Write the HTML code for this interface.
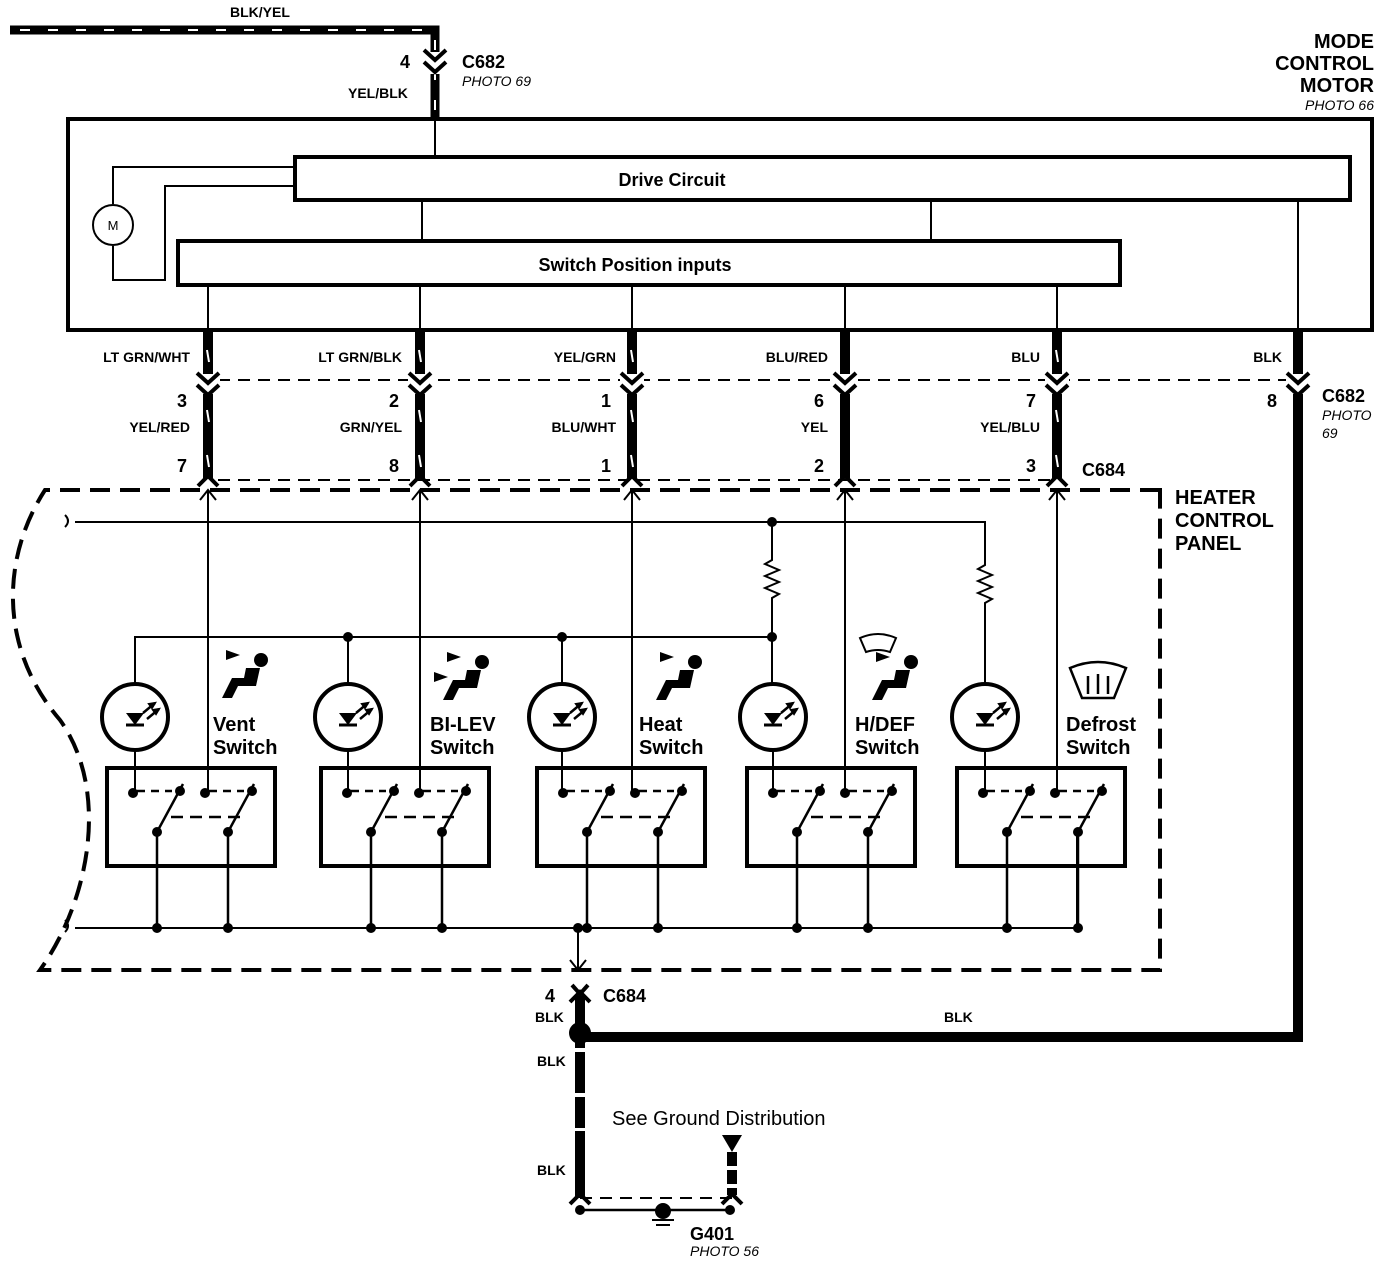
<!DOCTYPE html>
<html><head><meta charset="utf-8"><style>
html,body{margin:0;padding:0;background:#fff}
svg{display:block}
text{font-family:"Liberation Sans",Arial,sans-serif;font-weight:bold;fill:#000}
.s{font-size:14px}
.m{font-size:18px}
.l{font-size:20px}
.i{font-style:italic;font-weight:normal;font-size:14px}
.n{font-weight:normal;font-size:20px}
</style></head><body>
<svg width="1392" height="1264" viewBox="0 0 1392 1264" xmlns="http://www.w3.org/2000/svg">
<defs>
<g id="sw">
<rect x="0" y="0" width="168" height="98" fill="none" stroke="#000" stroke-width="4"/>
<g fill="#000">
<circle cx="26" cy="25" r="5"/><circle cx="73" cy="23" r="5"/><circle cx="98" cy="25" r="5"/><circle cx="145" cy="23" r="5"/>
<circle cx="50" cy="64" r="5"/><circle cx="121" cy="64" r="5"/>
</g>
<g stroke="#000" stroke-width="2.5" fill="none">
<path d="M30 23 L65 23" stroke-dasharray="8 6"/>
<path d="M102 23 L137 23" stroke-dasharray="8 6"/>
<path d="M50 64 L76 16"/><path d="M121 64 L147 16"/>
<path d="M64 49 L136 49" stroke-dasharray="12 7"/>
<path d="M50 64 L50 162"/><path d="M121 64 L121 162"/>
</g>
<circle cx="50" cy="160" r="5"/><circle cx="121" cy="160" r="5"/>
</g>
<g id="led">
<circle cx="0" cy="0" r="33" fill="#fff" stroke="#000" stroke-width="4"/>
<path d="M-9 -4 L9 -4 L0 8 Z" fill="#000"/>
<path d="M-9 8 L9 8" stroke="#000" stroke-width="3"/>
<path d="M8 -4 L20 -14 M12 2 L24 -8" stroke="#000" stroke-width="2.5"/>
<path d="M20 -14 l-6 1 l3 4z M24 -8 l-6 1 l3 4z" fill="#000" stroke="#000" stroke-width="2"/>
</g>
<g id="seat" fill="#000">
<path d="M0 -10 L14 -5 L0 0 Z"/>
<circle cx="35" cy="0" r="7"/>
<path d="M20 8 L34 8 L30 26 L12 26 L6 38 L-4 38 L6 18 L18 18 Z"/>
</g>
<g id="cpl">
<path d="M-11 -8 L0 2 L11 -8" stroke="#000" stroke-width="4" fill="none"/>
<path d="M-11 4 L0 14 L11 4" stroke="#000" stroke-width="4" fill="none"/>
</g>
</defs>

<!-- top wire -->
<path d="M10 30 L435 30 L435 118" stroke="#000" stroke-width="9" fill="none"/>
<path d="M20 30 L430 30" stroke="#fff" stroke-width="2" stroke-dasharray="10 18" fill="none"/>
<path d="M435 40 L435 110" stroke="#fff" stroke-width="2" stroke-dasharray="10 20" fill="none"/>
<rect x="426" y="52" width="18" height="22" fill="#fff"/>
<use href="#cpl" x="435" y="58"/>
<text class="s" x="230" y="17">BLK/YEL</text>
<text class="m" x="400" y="68">4</text>
<text class="m" x="462" y="68">C682</text>
<text class="i" x="462" y="86">PHOTO 69</text>
<text class="s" x="348" y="98">YEL/BLK</text>
<text class="l" x="1374" y="48" text-anchor="end">MODE</text>
<text class="l" x="1374" y="70" text-anchor="end">CONTROL</text>
<text class="l" x="1374" y="92" text-anchor="end">MOTOR</text>
<text class="i" x="1374" y="110" text-anchor="end">PHOTO 66</text>

<!-- motor box -->
<rect x="68" y="119" width="1304" height="211" fill="none" stroke="#000" stroke-width="4"/>
<g stroke="#000" stroke-width="2" fill="none">
<path d="M435 119 L435 157"/>
<path d="M295 167 L113 167 L113 204"/>
<path d="M113 246 L113 280 L165 280 L165 186 L295 186"/>
<path d="M422 200 L422 241 M931 200 L931 241 M1298 200 L1298 330"/>
<path d="M208 285 L208 330 M420 285 L420 330 M632 285 L632 330 M845 285 L845 330 M1057 285 L1057 330"/>
</g>
<circle cx="113" cy="225" r="20" fill="#fff" stroke="#000" stroke-width="2"/>
<text x="113" y="230" text-anchor="middle" style="font-size:13px;font-weight:normal">M</text>
<rect x="295" y="157" width="1055" height="43" fill="#fff" stroke="#000" stroke-width="4"/>
<text class="m" x="672" y="186" text-anchor="middle">Drive Circuit</text>
<rect x="178" y="241" width="942" height="44" fill="#fff" stroke="#000" stroke-width="4"/>
<text class="m" x="635" y="271" text-anchor="middle">Switch Position inputs</text>

<!-- thick wires -->
<g stroke="#000" stroke-width="10" fill="none">
<path d="M208 330 L208 478 M420 330 L420 478 M632 330 L632 478 M845 330 L845 478 M1057 330 L1057 478"/>
<path d="M1298 330 L1298 1037 L585 1037"/>
</g>
<g stroke="#fff" stroke-width="2" fill="none">
<path d="M207 350 l2 12 M207 410 l2 12 M207 455 l2 12"/>
<path d="M419 350 l2 12 M419 410 l2 12 M419 455 l2 12"/>
<path d="M631 350 l2 12 M631 410 l2 12 M631 455 l2 12"/>
<path d="M1056 350 l2 12 M1056 410 l2 12 M1056 455 l2 12"/>
</g>
<g stroke="#000" stroke-width="2" stroke-dasharray="12 8" fill="none">
<path d="M218 380 L1290 380"/>
<path d="M218 480 L1050 480"/>
</g>
<g fill="#fff"><rect x="196" y="374" width="24" height="20"/><rect x="408" y="374" width="24" height="20"/><rect x="620" y="374" width="24" height="20"/><rect x="833" y="374" width="24" height="20"/><rect x="1045" y="374" width="24" height="20"/><rect x="1286" y="374" width="24" height="20"/></g>
<use href="#cpl" x="208" y="381"/><use href="#cpl" x="420" y="381"/><use href="#cpl" x="632" y="381"/><use href="#cpl" x="845" y="381"/><use href="#cpl" x="1057" y="381"/><use href="#cpl" x="1298" y="381"/>
<g stroke="#000" stroke-width="4" fill="none">
<path d="M198 486 L208 476 L218 486 M410 486 L420 476 L430 486 M622 486 L632 476 L642 486 M835 486 L845 476 L855 486 M1047 486 L1057 476 L1067 486"/>
</g>
<text class="s" x="190" y="362" text-anchor="end">LT GRN/WHT</text>
<text class="s" x="402" y="362" text-anchor="end">LT GRN/BLK</text>
<text class="s" x="616" y="362" text-anchor="end">YEL/GRN</text>
<text class="s" x="828" y="362" text-anchor="end">BLU/RED</text>
<text class="s" x="1040" y="362" text-anchor="end">BLU</text>
<text class="s" x="1282" y="362" text-anchor="end">BLK</text>
<text class="s" x="190" y="432" text-anchor="end">YEL/RED</text>
<text class="s" x="402" y="432" text-anchor="end">GRN/YEL</text>
<text class="s" x="616" y="432" text-anchor="end">BLU/WHT</text>
<text class="s" x="828" y="432" text-anchor="end">YEL</text>
<text class="s" x="1040" y="432" text-anchor="end">YEL/BLU</text>
<text class="m" x="187" y="407" text-anchor="end">3</text>
<text class="m" x="399" y="407" text-anchor="end">2</text>
<text class="m" x="611" y="407" text-anchor="end">1</text>
<text class="m" x="824" y="407" text-anchor="end">6</text>
<text class="m" x="1036" y="407" text-anchor="end">7</text>
<text class="m" x="1277" y="407" text-anchor="end">8</text>
<text class="m" x="1322" y="402">C682</text>
<text class="i" x="1322" y="420">PHOTO</text>
<text class="i" x="1322" y="438">69</text>
<text class="m" x="187" y="472" text-anchor="end">7</text>
<text class="m" x="399" y="472" text-anchor="end">8</text>
<text class="m" x="611" y="472" text-anchor="end">1</text>
<text class="m" x="824" y="472" text-anchor="end">2</text>
<text class="m" x="1036" y="472" text-anchor="end">3</text>
<text class="m" x="1082" y="476">C684</text>

<!-- heater panel boundary -->
<path d="M1160 490 L45 490 C0 560,0 650,60 720 C110 790,90 900,40 970 L1160 970 Z" fill="none" stroke="#000" stroke-width="4" stroke-dasharray="20 10"/>
<text class="l" x="1175" y="504">HEATER</text>
<text class="l" x="1175" y="527">CONTROL</text>
<text class="l" x="1175" y="550">PANEL</text>

<g stroke="#000" stroke-width="2" fill="none">
<path d="M65 515 q6 6 0 12"/>
<path d="M75 522 L985 522 L985 565 l-7 4 l14 6 l-14 6 l14 6 l-14 6 l14 6 l-7 4 L985 690"/>
<path d="M772 522 L772 560 l-7 4 l14 6 l-14 6 l14 6 l-14 6 l14 6 l-7 4 L772 637"/>
<path d="M135 690 L135 637 L772 637 L772 690"/>
<path d="M348 637 L348 690 M562 637 L562 690"/>
<path d="M135 750 L135 793 M348 750 L348 793 M562 750 L562 793 M773 750 L773 793 M985 750 L985 793"/>
<path d="M208 790 L208 490 M420 790 L420 490 M632 790 L632 490 M845 790 L845 490 M1057 790 L1057 490"/>
<path d="M75 928 L1077 928 L1077 832"/>
<path d="M65 920 q6 6 0 12"/>
<path d="M578 928 L578 970"/>
<path d="M200 500 L208 490 L216 500 M412 500 L420 490 L428 500 M624 500 L632 490 L640 500 M837 500 L845 490 L853 500 M1049 500 L1057 490 L1065 500"/>
<path d="M570 960 L578 970 L586 960"/>
</g>
<g fill="#000"><circle cx="772" cy="522" r="5"/><circle cx="348" cy="637" r="5"/><circle cx="562" cy="637" r="5"/><circle cx="772" cy="637" r="5"/><circle cx="578" cy="928" r="5"/></g>

<use href="#led" x="135" y="717"/><use href="#led" x="348" y="717"/><use href="#led" x="562" y="717"/><use href="#led" x="773" y="717"/><use href="#led" x="985" y="717"/>
<use href="#sw" x="107" y="768"/><use href="#sw" x="321" y="768"/><use href="#sw" x="537" y="768"/><use href="#sw" x="747" y="768"/><use href="#sw" x="957" y="768"/>

<use href="#seat" x="226" y="660"/>
<use href="#seat" x="447" y="662"/><path d="M434 672 L448 677 L434 682Z" fill="#000"/>
<use href="#seat" x="660" y="662"/>
<use href="#seat" x="876" y="662"/>
<path d="M860 638 Q878 630 896 638 L890 652 Q878 648 866 652 Z" fill="none" stroke="#000" stroke-width="2"/>
<path d="M1070 668 Q1098 656 1126 668 L1114 698 L1082 698 Z" fill="none" stroke="#000" stroke-width="2.5"/>
<path d="M1088 694 l0 -18 M1098 694 l0 -20 M1108 694 l0 -18" stroke="#000" stroke-width="2.5"/>

<text class="l" x="213" y="731">Vent</text><text class="l" x="213" y="754">Switch</text>
<text class="l" x="430" y="731">BI-LEV</text><text class="l" x="430" y="754">Switch</text>
<text class="l" x="639" y="731">Heat</text><text class="l" x="639" y="754">Switch</text>
<text class="l" x="855" y="731">H/DEF</text><text class="l" x="855" y="754">Switch</text>
<text class="l" x="1066" y="731">Defrost</text><text class="l" x="1066" y="754">Switch</text>

<!-- ground section -->
<path d="M572 985 L580 994 L588 985" stroke="#000" stroke-width="4" fill="none"/>
<path d="M570 1002 L580 992 L590 1002" stroke="#000" stroke-width="4" fill="none"/>
<path d="M580 996 L580 1198" stroke="#000" stroke-width="10"/>
<path d="M580 1048 L580 1052 M580 1093 L580 1097 M580 1128 L580 1131" stroke="#fff" stroke-width="12"/>
<circle cx="580" cy="1033" r="11" fill="#000"/>
<path d="M580 1198 L732 1198" stroke="#000" stroke-width="2" stroke-dasharray="12 8"/>
<path d="M570 1204 L580 1194 L590 1204 M722 1204 L732 1194 L742 1204" stroke="#000" stroke-width="4" fill="none"/>
<path d="M722 1135 L742 1135 L732 1152 Z" fill="#000"/>
<path d="M732 1152 L732 1195" stroke="#000" stroke-width="10" stroke-dasharray="14 4"/>
<path d="M580 1210 L730 1210" stroke="#000" stroke-width="2.5"/>
<circle cx="580" cy="1210" r="5"/><circle cx="730" cy="1210" r="5"/>
<circle cx="663" cy="1211" r="8" fill="#000"/>
<path d="M652 1220 L674 1220 M656 1225 L670 1225" stroke="#000" stroke-width="2"/>
<text class="m" x="545" y="1002">4</text>
<text class="m" x="603" y="1002">C684</text>
<text class="s" x="535" y="1022">BLK</text>
<text class="s" x="537" y="1066">BLK</text>
<text class="s" x="537" y="1175">BLK</text>
<text class="s" x="944" y="1022">BLK</text>
<text class="n" x="612" y="1125">See Ground Distribution</text>
<text class="m" x="690" y="1240">G401</text>
<text class="i" x="690" y="1256">PHOTO 56</text>
</svg>
</body></html>
